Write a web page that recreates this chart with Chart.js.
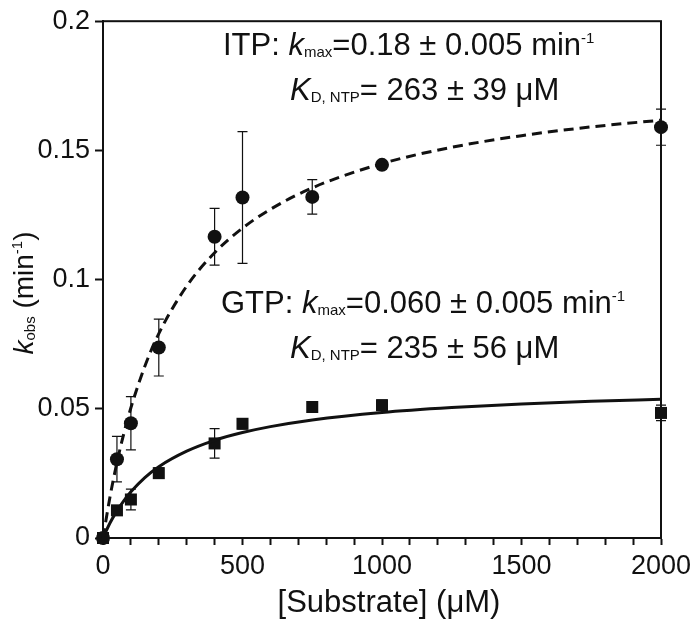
<!DOCTYPE html>
<html>
<head>
<meta charset="utf-8">
<script src="https://cdn.jsdelivr.net/npm/chart.js@4"></script>
<style>
  html, body { margin: 0; padding: 0; background: #fff; }
  #wrap { width: 700px; height: 622px; position: relative; }
</style>
</head>
<body>
<div id="wrap"><canvas id="kobsChart"></canvas></div>
<script>
// Measured points (substrate in µM, kobs in min^-1)
const substrate = [0, 50, 100, 200, 400, 500, 750, 1000, 2000];
const itpKobs = [0, 0.0305, 0.0444, 0.0737, 0.1166, 0.1318, 0.132, 0.1444, 0.159];
const itpErr = [0, 0.0088, 0.0103, 0.011, 0.011, 0.0255, 0.0067, 0.001, 0.007];
const gtpKobs = [0, 0.0107, 0.0149, 0.0251, 0.0366, 0.0442, 0.0507, 0.0514, 0.0484];
const gtpErr = [0, 0.001, 0.004, 0.002, 0.0057, 0.002, 0.002, 0.002, 0.003];

// Fit curves
const fitX = [0, 25, 50, 75, 100, 150, 200, 300, 400, 500, 600, 750, 1000, 1250, 1500, 1750, 2000];
const itpFit = [0, 0.0159, 0.0292, 0.0406, 0.0504, 0.0665, 0.0791, 0.0975, 0.1104, 0.1199, 0.1272, 0.1355, 0.1449, 0.1512, 0.1557, 0.1591, 0.1617];
const gtpFit = [0, 0.0058, 0.0105, 0.0145, 0.0179, 0.0234, 0.0276, 0.0336, 0.0378, 0.0408, 0.0431, 0.0457, 0.0486, 0.0505, 0.0519, 0.0529, 0.0537];

const FONT = '"Liberation Sans", Arial, sans-serif';
const INK = '#111';

const toXY = (xs, ys) => xs.map((x, i) => ({ x: x, y: ys[i] }));

// draws text runs with italic / subscript / superscript pieces
function drawRich(ctx, runs, x, y, size, small) {
    let cx = x;
    runs.forEach(r => {
        let f = size, dy = 0, style = '';
        if (r.s === 'i') style = 'italic ';
        if (r.s === 'sub') { f = small; dy = 2; }
        if (r.s === 'sup') { f = small; dy = -size * 0.4; }
        ctx.font = style + f + 'px ' + FONT;
        ctx.fillText(r.t, cx, y + dy);
        cx += ctx.measureText(r.t).width;
    });
}

function richWidth(ctx, runs, size, small) {
    let w = 0;
    runs.forEach(r => {
        let f = (r.s === 'sub' || r.s === 'sup') ? small : size;
        ctx.font = (r.s === 'i' ? 'italic ' : '') + f + 'px ' + FONT;
        w += ctx.measureText(r.t).width;
    });
    return w;
}

const errorBars = {
    id: 'errorBars',
    beforeDatasetsDraw(chart) {
        const ctx = chart.ctx, xs = chart.scales.x, ys = chart.scales.y;
        ctx.save();
        ctx.strokeStyle = INK;
        ctx.lineWidth = 1.2;
        [[itpKobs, itpErr], [gtpKobs, gtpErr]].forEach(([vals, errs]) => {
            substrate.forEach((s, i) => {
                if (!errs[i]) return;
                const px = xs.getPixelForValue(s);
                const top = ys.getPixelForValue(vals[i] + errs[i]);
                const bot = ys.getPixelForValue(vals[i] - errs[i]);
                ctx.beginPath();
                ctx.moveTo(px, top); ctx.lineTo(px, bot);
                ctx.moveTo(px - 5, top); ctx.lineTo(px + 5, top);
                ctx.moveTo(px - 5, bot); ctx.lineTo(px + 5, bot);
                ctx.stroke();
            });
        });
        ctx.restore();
    }
};

const frameAndText = {
    id: 'frameAndText',
    afterDraw(chart) {
        const ctx = chart.ctx, a = chart.chartArea;
        ctx.save();
        ctx.strokeStyle = INK;
        ctx.lineWidth = 2;
        ctx.strokeRect(a.left, a.top, a.right - a.left, a.bottom - a.top);

        ctx.fillStyle = INK;
        ctx.textBaseline = 'alphabetic';
        ctx.textAlign = 'left';
        drawRich(ctx, [{ t: 'ITP: ' }, { t: 'k', s: 'i' }, { t: 'max', s: 'sub' }, { t: '=0.18 ± 0.005 min' }, { t: '-1', s: 'sup' }], 223, 55, 31, 15);
        drawRich(ctx, [{ t: 'K', s: 'i' }, { t: 'D, NTP', s: 'sub' }, { t: '= 263 ± 39 μM' }], 290, 100, 31, 15);
        drawRich(ctx, [{ t: 'GTP: ' }, { t: 'k', s: 'i' }, { t: 'max', s: 'sub' }, { t: '=0.060 ± 0.005 min' }, { t: '-1', s: 'sup' }], 221, 313, 31, 15);
        drawRich(ctx, [{ t: 'K', s: 'i' }, { t: 'D, NTP', s: 'sub' }, { t: '= 235 ± 56 μM' }], 290, 358, 31, 15);

        // x axis title
        ctx.font = '31px ' + FONT;
        ctx.textAlign = 'center';
        ctx.fillText('[Substrate] (μM)', 389, 612);
        ctx.textAlign = 'left';

        // y axis title, rotated
        const yTitle = [{ t: 'k', s: 'i' }, { t: 'obs', s: 'sub' }, { t: ' (min' }, { t: '-1', s: 'sup' }, { t: ')' }];
        const w = richWidth(ctx, yTitle, 28, 15);
        ctx.translate(33, 293);
        ctx.rotate(-Math.PI / 2);
        drawRich(ctx, yTitle, -w / 2, 0, 28, 15);
        ctx.restore();
    }
};

document.addEventListener('DOMContentLoaded', () => {
    const ctx = document.getElementById('kobsChart').getContext('2d');

    new Chart(ctx, {
        type: 'scatter',
        data: {
            datasets: [
                {
                    label: 'ITP fit',
                    data: toXY(fitX, itpFit),
                    showLine: true,
                    borderColor: INK,
                    borderWidth: 3,
                    borderDash: [10, 6],
                    pointRadius: 0,
                    cubicInterpolationMode: 'monotone',
                    clip: false
                },
                {
                    label: 'GTP fit',
                    data: toXY(fitX, gtpFit),
                    showLine: true,
                    borderColor: INK,
                    borderWidth: 3,
                    pointRadius: 0,
                    cubicInterpolationMode: 'monotone',
                    clip: false
                },
                {
                    label: 'ITP',
                    data: toXY(substrate, itpKobs),
                    pointStyle: 'circle',
                    pointRadius: 7,
                    backgroundColor: INK,
                    borderColor: INK,
                    borderWidth: 0,
                    clip: false
                },
                {
                    label: 'GTP',
                    data: toXY(substrate, gtpKobs),
                    pointStyle: 'rect',
                    pointRadius: 8.5,
                    backgroundColor: INK,
                    borderColor: INK,
                    borderWidth: 0,
                    clip: false
                }
            ]
        },
        options: {
            responsive: true,
            maintainAspectRatio: false,
            animation: false,
            layout: { padding: { top: 13, right: 39, left: 0, bottom: 0 } },
            plugins: {
                legend: { display: false },
                tooltip: { enabled: false }
            },
            scales: {
                x: {
                    type: 'linear',
                    min: 0,
                    max: 2000,
                    afterFit: s => { s.height = 84; },
                    border: { color: INK, width: 2 },
                    grid: { drawOnChartArea: false, drawTicks: true, tickLength: 7, tickWidth: 2, tickColor: INK },
                    ticks: {
                        stepSize: 100,
                        autoSkip: false,
                        maxRotation: 0,
                        padding: 5,
                        color: INK,
                        font: { size: 27, family: FONT },
                        callback: v => (v % 500 === 0 ? String(v) : '')
                    }
                },
                y: {
                    type: 'linear',
                    min: 0,
                    max: 0.2,
                    afterFit: s => { s.width = 103; },
                    border: { color: INK, width: 2 },
                    grid: { drawOnChartArea: false, drawTicks: true, tickLength: 8, tickWidth: 2, tickColor: INK },
                    ticks: {
                        stepSize: 0.05,
                        padding: 5,
                        color: INK,
                        font: { size: 27, family: FONT },
                        callback: v => String(parseFloat(v.toFixed(3)))
                    }
                }
            }
        },
        plugins: [errorBars, frameAndText]
    });
});
</script>
</body>
</html>
